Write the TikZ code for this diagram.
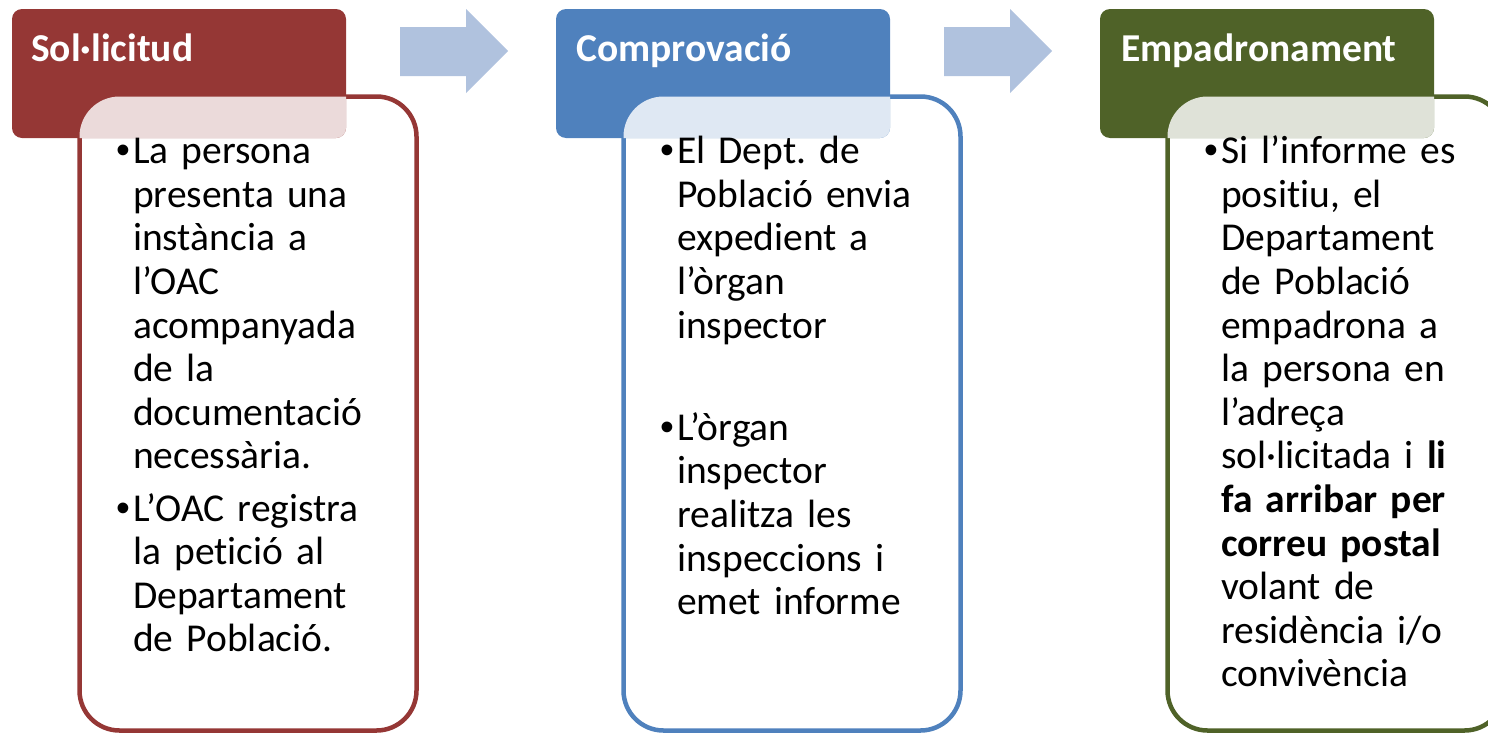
\documentclass[tikz,border=0pt]{standalone}
\usepackage{fontspec}
\setmainfont{Carlito}[Ligatures={NoCommon}]
\newfontfamily\bulletfont{Liberation Sans}
\definecolor{solred}{HTML}{953735}
\definecolor{compblue}{HTML}{4F81BD}
\definecolor{empgreen}{HTML}{4F6228}
\definecolor{arrowblue}{HTML}{B0C2DE}
\setlength{\parindent}{0pt}
\frenchspacing
\newcommand{\bul}{\leavevmode\llap{\bulletfont •\hspace{3pt}}}
\tikzset{
  hdr/.style={anchor=north west, minimum width=334pt, minimum height=129pt, rounded corners=10pt, inner sep=0pt, outer sep=0pt},
  panel/.style={anchor=north west, minimum width=337pt, minimum height=634pt, rounded corners=40pt, fill=white, line width=4.5pt, inner sep=0pt, outer sep=0pt},
  htxt/.style={anchor=base west, inner sep=0pt, text=white, font=\fontsize{39.5}{43.6}\selectfont\bfseries},
  body/.style={anchor=north west, inner sep=0pt, text width=320pt, align=left, font=\fontsize{39.5}{43.6}\selectfont\frenchspacing},
  bigarrow/.style={fill=arrowblue},
  veil/.style={fill=white, fill opacity=0.82, rounded corners=40pt}
}
\begin{document}
\begin{tikzpicture}[x=1pt,y=-1pt]
\useasboundingbox (0,0) rectangle (1488,734);

% column 1
\node[panel, draw=solred] (p1) at (79.5,96.5) {};
\node[hdr, fill=solred] (h1) at (12,9) {};
\begin{scope}
\clip[rounded corners=10pt] (h1.north west) rectangle (h1.south east);
\fill[veil] (p1.north west) rectangle (p1.south east);
\end{scope}
\node[htxt] (h1t) at (31,61) {Sol·licitud};
\node[body] (b1) at (133,133) {\strut\bul La persona\\
presenta una\\
instància a\\
l’OAC\\
acompanyada\\
de la\\
documentació\\
necessària.\\[8.5pt]%
\bul L’OAC registra\\
la petició al\\
Departament\\
de Població.};

% column 2
\node[panel, draw=compblue] (p2) at (623.5,96.5) {};
\node[hdr, fill=compblue] (h2) at (556,9) {};
\begin{scope}
\clip[rounded corners=10pt] (h2.north west) rectangle (h2.south east);
\fill[veil] (p2.north west) rectangle (p2.south east);
\end{scope}
\node[htxt] (h2t) at (576,61) {Comprovació};
\node[body] (b2) at (677,133) {\strut\bul El Dept. de\\
Població envia\\
expedient a\\
l’òrgan\\
inspector\\[58.5pt]%
\bul L’òrgan\\
inspector\\
realitza les\\
inspeccions i\\
emet informe};

% column 3
\node[panel, draw=empgreen] (p3) at (1167.5,96.5) {};
\node[hdr, fill=empgreen] (h3) at (1100,9) {};
\begin{scope}
\clip[rounded corners=10pt] (h3.north west) rectangle (h3.south east);
\fill[veil] (p3.north west) rectangle (p3.south east);
\end{scope}
\node[htxt] (h3t) at (1121,61) {Empadronament};
\node[body] (b3) at (1221,133) {\strut\bul Si l’informe es\\
positiu, el\\
Departament\\
de Població\\
empadrona a\\
la persona en\\
l’adreça\\
sol·licitada i \textbf{li}\\
\textbf{fa arribar per}\\
\textbf{correu postal}\\
volant de\\
residència i/o\\
convivència};

% arrows
\fill[bigarrow] (400,27) -- (466,27) -- (466,9) -- (508,51) -- (466,93) -- (466,76) -- (400,76) -- cycle;
\fill[bigarrow] (944,27) -- (1010,27) -- (1010,9) -- (1052,51) -- (1010,93) -- (1010,76) -- (944,76) -- cycle;
\end{tikzpicture}
\end{document}
